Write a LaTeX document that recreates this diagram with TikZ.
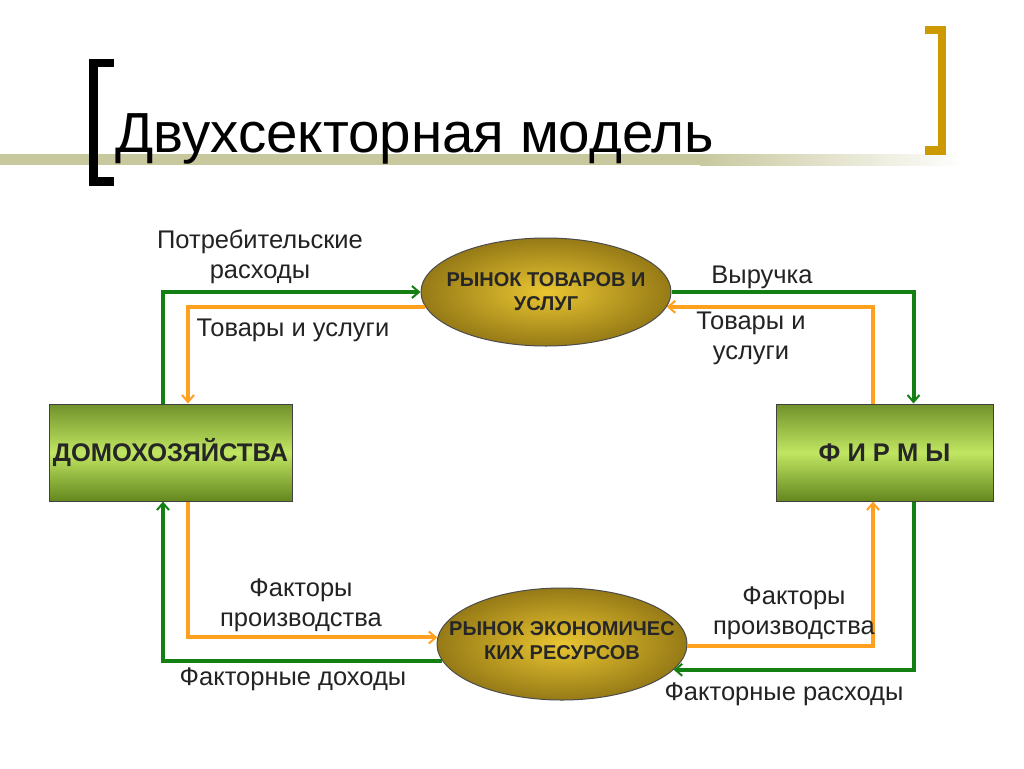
\documentclass[tikz,border=0pt]{standalone}
\usepackage{fontspec}
\setmainfont{Liberation Sans}
\usetikzlibrary{arrows.meta,shapes.geometric}

\definecolor{flowgreen}{RGB}{20,128,20}
\definecolor{floworange}{RGB}{255,160,30}
\definecolor{barolive}{RGB}{200,200,158}
\definecolor{brgold}{RGB}{204,153,0}
\definecolor{boxtop}{RGB}{112,145,42}
\definecolor{boxmid}{RGB}{192,230,98}
\definecolor{boxbot}{RGB}{100,135,30}
\definecolor{mktin}{RGB}{234,198,50}
\definecolor{mktout}{RGB}{150,122,22}
\definecolor{lbl}{RGB}{35,35,35}

\begin{document}
\begin{tikzpicture}[x=1pt,y=-1pt]
\tikzstyle{sector}=[rectangle, draw=black!75, line width=1pt, top color=boxtop,
    bottom color=boxbot, middle color=boxmid, minimum height=97pt, inner sep=0pt,
    font=\fontsize{25.5}{30}\selectfont\bfseries, text=black!85]
\tikzstyle{market}=[ellipse, draw=black!70, line width=1pt, inner color=mktin,
    outer color=mktout, minimum width=250pt, minimum height=108pt]
\tikzstyle{mtext}=[align=center, font=\fontsize{20}{24}\selectfont\bfseries, text=black!85]
\tikzstyle{flowlbl}=[align=center, font=\fontsize{25.5}{30}\selectfont, text=lbl]
\tikzstyle{gflow}=[draw=flowgreen, line width=4pt,
    -{Straight Barb[length=7pt,width=12pt,line width=2pt]}]
\tikzstyle{oflow}=[draw=floworange, line width=4pt,
    -{Straight Barb[length=7pt,width=12pt,line width=2pt]}]

\fill[white] (0,0) rectangle (1024,768);
\useasboundingbox (0,0) rectangle (1024,768);

\fill[barolive] (0,154) rectangle (700,165);
\shade[left color=barolive, right color=white] (700,154) rectangle (965,165);
\fill[black] (89,59) rectangle (98,186);
\fill[black] (89,59) rectangle (114,67);
\fill[black] (89,177) rectangle (114,186);
\fill[brgold] (938,26) rectangle (946,155);
\fill[brgold] (925,26) rectangle (946,34);
\fill[brgold] (925,146) rectangle (946,155);
\node[anchor=base west, inner sep=0pt, font=\fontsize{56.5}{60}\selectfont] (title)
    at (115,152) {Двухсекторная модель};

\node[sector, minimum width=243pt] (hh) at (170.5,452.5) {ДОМОХОЗЯЙСТВА};
\node[sector, minimum width=217pt] (ff) at (884.5,452.5) {Ф И Р М Ы};
\node[market] (mg) at (546,292) {};
\node[mtext] (mgt) at (mg) {РЫНОК ТОВАРОВ И\\УСЛУГ};
\node[market, minimum height=112pt] (mr) at (562,644) {};
\node[mtext] (mrt) at (562,641) {РЫНОК ЭКОНОМИЧЕС\\КИХ РЕСУРСОВ};

\coordinate (gl) at (163,0);
\coordinate (ol) at (188,0);
\coordinate (or) at (873,0);
\coordinate (gr) at (913.5,0);

\draw[gflow] (hh.north -| gl) |- (mg.west);
\draw[oflow] (mg.187.6) -| (hh.north -| ol);
\draw[gflow] (mg.east) -| (ff.north -| gr);
\draw[oflow] (ff.north -| or) |- (mg.-7.6);
\draw[oflow] (hh.south -| ol) |- (mr.177.2);
\draw[gflow] (mr.188.6) -| (hh.south -| gl);
\draw[oflow] (mr.-1) -| (ff.south -| or);
\draw[gflow] (ff.south -| gr) |- (mr.-13.85);

\node[flowlbl] (cons) at (260,257) {Потребительские\\расходы};
\node[flowlbl] (goodsl) at (293,330) {Товары и услуги};
\node[flowlbl] (rev) at (762,277) {Выручка};
\node[flowlbl] (goodsr) at (751,338) {Товары и\\услуги};
\node[flowlbl] (factl) at (301,605) {Факторы\\производства};
\node[flowlbl] (incl) at (293,679) {Факторные доходы};
\node[flowlbl] (factr) at (794,613) {Факторы\\производства};
\node[flowlbl] (expr) at (784,694) {Факторные расходы};
\end{tikzpicture}
\end{document}
